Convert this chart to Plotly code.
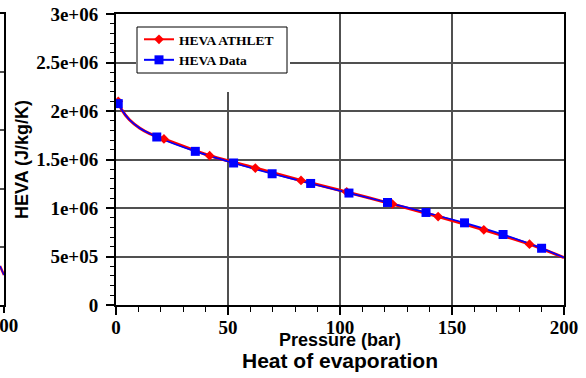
import plotly.graph_objects as go

# Heat of evaporation vs pressure: ATHLET model output and reference data
pressure_athlet = [1.0, 21.4, 41.8, 62.2, 82.6, 103.0, 123.4, 143.8, 164.2, 184.6]
heva_athlet = [2.10e6, 1.712e6, 1.539e6, 1.412e6, 1.284e6, 1.165e6, 1.040e6, 0.912e6, 0.775e6, 0.627e6]

pressure_data = [1.0, 18.2, 35.4, 52.5, 69.7, 86.9, 104.0, 121.2, 138.4, 155.6, 172.8, 190.0]
heva_data = [2.076e6, 1.732e6, 1.584e6, 1.464e6, 1.353e6, 1.253e6, 1.154e6, 1.057e6, 0.954e6, 0.847e6, 0.727e6, 0.585e6]

# denser curve samples (low-pressure knee and the end of the range)
pressure_knee = [2.5, 6.0, 10.5, 15.0]
heva_knee = [2.015e6, 1.91e6, 1.825e6, 1.767e6]
pressure_end = [200.0]
heva_end = [0.489e6]

# tail of the neighbouring panel at its right edge
pressure_prev = [198.2, 200.0]
value_prev = [0.67, 0.515]

y_tick_vals = [0, 5e5, 1e6, 1.5e6, 2e6, 2.5e6, 3e6]
y_tick_text = ["0", "5e+05", "1e+06", "1.5e+06", "2e+06", "2.5e+06", "3e+06"]


def merge(xa, ya, xb, yb, xc, yc):
    pts = sorted(zip(xa + xb + xc, ya + yb + yc))
    return [p[0] for p in pts], [p[1] for p in pts]


red_cx, red_cy = merge(pressure_athlet, heva_athlet, pressure_knee, heva_knee, pressure_end, heva_end)
blue_cx, blue_cy = merge(pressure_data, heva_data, pressure_knee, heva_knee, pressure_end, heva_end)

RED = "#ff0000"
BLUE = "#0000ff"
GRID = "#505050"
W, H = 586, 378
L_PX, R_PX, T_PX, B_PX = 116, 564, 14, 305
paper_w = R_PX          # margin.l = 0, so paper spans 0..R_PX
paper_h = B_PX - T_PX
tick_font = dict(family="Liberation Serif", size=19, color="black", weight="bold")
sans = "Liberation Sans"


def px_x(p):
    return p / paper_w


def px_y(p):
    return (B_PX - p) / paper_h


fig = go.Figure()

# main curves
fig.add_trace(go.Scatter(x=red_cx, y=red_cy, mode="lines", line=dict(color=RED, width=3, shape="spline", smoothing=0.6),
                         showlegend=False, hoverinfo="skip"))
fig.add_trace(go.Scatter(x=blue_cx, y=blue_cy, mode="lines", line=dict(color=BLUE, width=1.7, shape="spline", smoothing=0.6),
                         showlegend=False, hoverinfo="skip"))
fig.add_trace(go.Scatter(x=pressure_athlet, y=heva_athlet, mode="markers",
                         marker=dict(symbol="diamond", size=7.5, color=RED), showlegend=False))
fig.add_trace(go.Scatter(x=pressure_data, y=heva_data, mode="markers",
                         marker=dict(symbol="square", size=9, color=BLUE), showlegend=False))

# legend entries
fig.add_trace(go.Scatter(x=[None], y=[None], mode="lines+markers", name="HEVA ATHLET",
                         line=dict(color=RED, width=2), marker=dict(symbol="diamond", size=7.5, color=RED)))
fig.add_trace(go.Scatter(x=[None], y=[None], mode="lines+markers", name="HEVA Data",
                         line=dict(color=BLUE, width=2), marker=dict(symbol="square", size=9, color=BLUE)))

# neighbouring panel
fig.add_trace(go.Scatter(x=pressure_prev, y=value_prev, mode="lines", line=dict(color=RED, width=2.5),
                         xaxis="x2", yaxis="y2", showlegend=False, hoverinfo="skip"))
fig.add_trace(go.Scatter(x=pressure_prev, y=value_prev, mode="lines", line=dict(color=BLUE, width=1.3),
                         xaxis="x2", yaxis="y2", showlegend=False, hoverinfo="skip"))

fig.update_layout(
    width=W, height=H,
    margin=dict(l=0, r=W - R_PX, t=T_PX, b=H - B_PX, autoexpand=False),
    paper_bgcolor="white", plot_bgcolor="white",
    title=dict(text="Heat of evaporation", font=dict(family=sans, size=21, color="black", weight="bold"),
               x=(L_PX + R_PX) / 2 / W, xanchor="center", xref="container",
               y=1 - 361 / H, yanchor="middle", yref="container"),
    xaxis=dict(domain=[px_x(L_PX), 1], range=[0, 200], dtick=50, tick0=0, automargin=False,
               showline=True, linecolor="black", linewidth=2, mirror=True,
               ticks="outside", ticklen=8, tickwidth=1.5, tickcolor="black", ticklabelstandoff=-4,
               tickfont=tick_font, showgrid=True, gridcolor=GRID, gridwidth=1.5, zeroline=False,
               minor=dict(dtick=10, ticks="outside", ticklen=5, tickwidth=1, tickcolor="black", showgrid=False)),
    yaxis=dict(range=[0, 3e6], tickvals=y_tick_vals, ticktext=y_tick_text, automargin=False,
               showline=True, linecolor="black", linewidth=2, mirror=True,
               ticks="outside", ticklen=8, tickwidth=1.5, tickcolor="black", ticklabelstandoff=4,
               tickfont=tick_font, showgrid=True, gridcolor=GRID, gridwidth=1.5, zeroline=False,
               minor=dict(dtick=1e5, ticks="outside", ticklen=4, tickwidth=1, tickcolor="black", showgrid=False)),
    xaxis2=dict(domain=[0, px_x(4)], range=[pressure_prev[0], pressure_prev[-1]], anchor="y2", automargin=False,
                dtick=50, tick0=0, showline=True, linecolor="black", linewidth=1.5, mirror=True,
                ticks="outside", ticklen=6, tickwidth=1.5, tickcolor="black", ticklabelstandoff=-4,
                ticklabeloverflow="allow",
                tickfont=tick_font, showgrid=False, zeroline=False),
    yaxis2=dict(domain=[0, 1], range=[0, 5], dtick=1, anchor="x2", side="right", automargin=False,
                showline=True, linecolor="black", linewidth=1.5, mirror=False,
                ticks="", showticklabels=False, showgrid=True, gridcolor=GRID, gridwidth=1.5, zeroline=False),
    legend=dict(x=px_x(139), y=px_y(24), xanchor="left", yanchor="top",
                bgcolor="rgba(0,0,0,0)", borderwidth=0,
                font=dict(family="Liberation Serif", size=13.5, color="black", weight="bold"),
                tracegroupgap=0, itemsizing="trace"),
    annotations=[
        dict(text="HEVA (J/kg/K)", textangle=-90, xref="paper", yref="paper",
             x=px_x(22), y=px_y(160), xanchor="center", yanchor="middle", showarrow=False,
             font=dict(family=sans, size=18, color="black", weight="bold")),
        dict(text="Pressure (bar)", xref="paper", yref="paper",
             x=px_x((L_PX + R_PX) / 2), y=px_y(340), xanchor="center", yanchor="middle", showarrow=False,
             font=dict(family=sans, size=18, color="black", weight="bold")),
    ],
    shapes=[
        # blank area round the key, above the grid but under the curves
        dict(type="rect", xref="x", yref="y", layer="between",
             x0=(136 - L_PX) / 2.24, x1=(290 - L_PX) / 2.24, y0=(B_PX - 92) / 97.0 * 1e6, y1=3e6,
             fillcolor="white", line=dict(width=0)),
        # key frame
        dict(type="rect", xref="paper", yref="paper", layer="above",
             x0=px_x(137), x1=px_x(287), y0=px_y(73), y1=px_y(27),
             fillcolor="rgba(0,0,0,0)", line=dict(color="black", width=1)),
    ],
)

fig.write_html("out.html")
